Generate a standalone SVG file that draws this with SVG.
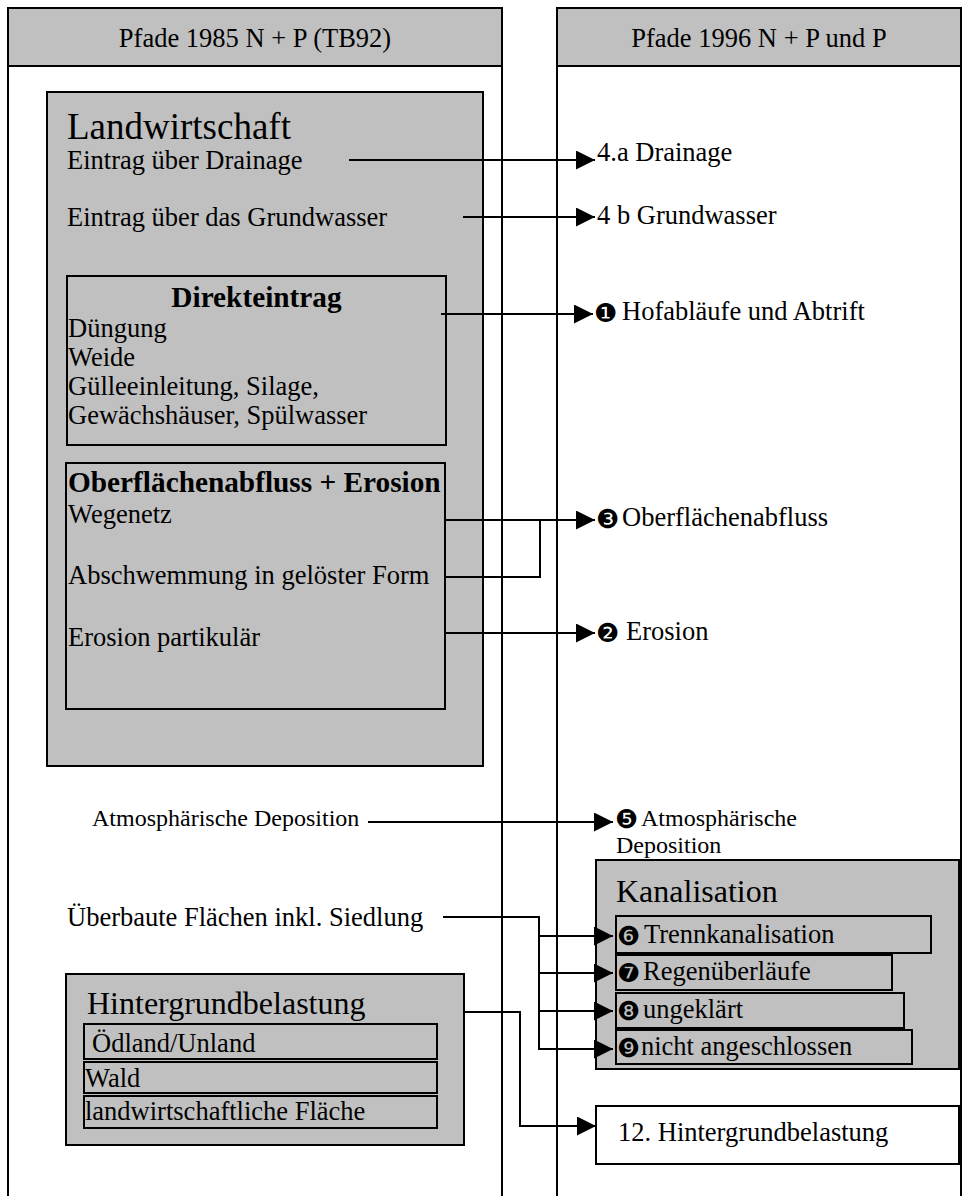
<svg xmlns="http://www.w3.org/2000/svg" width="963" height="1196" viewBox="0 0 963 1196">
<style>
text{font-family:"Liberation Serif","Times New Roman",serif;fill:#000}
.b{font-size:26.5px}
.s{font-size:24px}
.h{font-size:32px}
.L{font-size:37px}
.bold{font-size:29.3px;font-weight:bold}
.dg{font-family:"DejaVu Sans",sans-serif;font-size:26px}
.box{fill:#c0c0c0;stroke:#000;stroke-width:2}
.wbox{fill:#fff;stroke:#000;stroke-width:2}
.ln{fill:none;stroke:#000;stroke-width:2}
.con{fill:none;stroke:#000;stroke-width:2}
</style>
<defs>
<marker id="ah" viewBox="0 0 19 19" refX="19" refY="9.5" markerWidth="19" markerHeight="19" markerUnits="userSpaceOnUse" orient="auto">
<path d="M0,0 L19,9.5 L0,19 z" fill="#000"/>
</marker>
</defs>
<rect width="963" height="1196" fill="#fff"/>
<g id="col-left">
<line class="ln" x1="8" y1="8" x2="8" y2="1196"/>
<line class="ln" x1="502" y1="8" x2="502" y2="1196"/>
<rect class="box" x="8" y="8" width="494" height="58"/>
<text class="b" x="255" y="47" text-anchor="middle">Pfade 1985 N + P (TB92)</text>
</g>
<g id="col-right">
<line class="ln" x1="557" y1="8" x2="557" y2="1196"/>
<line class="ln" x1="961" y1="8" x2="961" y2="1196"/>
<rect class="box" x="557" y="8" width="404" height="58"/>
<text class="b" x="759" y="47" text-anchor="middle">Pfade 1996 N + P und P</text>
</g>
<g id="landwirtschaft">
<rect class="box" x="47" y="92" width="436" height="674"/>
<text class="L" x="67" y="139">Landwirtschaft</text>
<text class="b" x="67" y="169">Eintrag über Drainage</text>
<text class="b" x="67" y="226">Eintrag über das Grundwasser</text>
</g>
<g id="direkteintrag">
<rect class="box" x="67" y="276" width="379" height="169"/>
<text class="bold" x="256.5" y="307" text-anchor="middle">Direkteintrag</text>
<text class="b" x="68" y="337">Düngung</text>
<text class="b" x="68" y="366">Weide</text>
<text class="b" x="68" y="395">Gülleeinleitung, Silage,</text>
<text class="b" x="68" y="424">Gewächshäuser, Spülwasser</text>
</g>
<g id="oberflaeche">
<rect class="box" x="66" y="463" width="379" height="246"/>
<text class="bold" x="68" y="492">Oberflächenabfluss + Erosion</text>
<text class="b" x="68" y="523">Wegenetz</text>
<text class="b" x="68" y="584">Abschwemmung in gelöster Form</text>
<text class="b" x="68" y="646">Erosion partikulär</text>
</g>
<g id="atmos-src">
<text class="s" x="92" y="826">Atmosphärische Deposition</text>
</g>
<g id="ueberbaut">
<text class="b" x="67" y="926">Überbaute Flächen inkl. Siedlung</text>
</g>
<g id="hintergrund">
<rect class="box" x="66" y="974" width="398" height="171"/>
<text class="h" x="87" y="1014">Hintergrundbelastung</text>
<rect class="box" x="84" y="1024" width="353" height="35"/>
<text class="b" x="92" y="1052">Ödland/Unland</text>
<rect class="box" x="84" y="1062" width="353" height="31"/>
<text class="b" x="85" y="1087">Wald</text>
<rect class="box" x="84" y="1096" width="353" height="32"/>
<text class="b" x="85" y="1120">landwirtschaftliche Fläche</text>
</g>
<g id="t-drainage"><text class="b" x="597" y="161">4.a Drainage</text></g>
<g id="t-grundwasser"><text class="b" x="597" y="224">4 b Grundwasser</text></g>
<g id="t-hof"><text class="b"><tspan class="dg" x="594" y="322">❶</tspan><tspan x="622" y="320">Hofabläufe und Abtrift</tspan></text></g>
<g id="t-oberfl"><text class="b"><tspan class="dg" x="596" y="528">❸</tspan><tspan x="622" y="526">Oberflächenabfluss</tspan></text></g>
<g id="t-erosion"><text class="b"><tspan class="dg" x="596" y="642">❷</tspan><tspan x="626" y="640">Erosion</tspan></text></g>
<g id="t-atmos"><text class="s"><tspan class="dg" x="615" y="828">❺</tspan><tspan x="641" y="826">Atmosphärische</tspan><tspan x="616" y="853">Deposition</tspan></text></g>
<g id="kanalisation">
<rect class="box" x="596" y="860" width="363" height="209"/>
<text class="h" x="616" y="902">Kanalisation</text>
<rect class="box" x="616" y="916" width="315" height="37"/>
<text class="b"><tspan class="dg" x="617" y="945">❻</tspan><tspan x="644" y="943">Trennkanalisation</tspan></text>
<rect class="box" x="616" y="955" width="276" height="35"/>
<text class="b"><tspan class="dg" x="617" y="982">❼</tspan><tspan x="643" y="980">Regenüberläufe</tspan></text>
<rect class="box" x="616" y="993" width="288" height="35"/>
<text class="b"><tspan class="dg" x="617" y="1020">❽</tspan><tspan x="643" y="1018">ungeklärt</tspan></text>
<rect class="box" x="616" y="1030" width="296" height="34"/>
<text class="b"><tspan class="dg" x="617" y="1057">❾</tspan><tspan x="641" y="1055">nicht angeschlossen</tspan></text>
</g>
<g id="hintergrund12">
<rect class="wbox" x="596" y="1106" width="363" height="58"/>
<text class="b" x="618" y="1141">12. Hintergrundbelastung</text>
</g>
<g id="connectors">
<line class="con" x1="349" y1="160" x2="595" y2="160" marker-end="url(#ah)"/>
<line class="con" x1="463" y1="217" x2="595" y2="217" marker-end="url(#ah)"/>
<line class="con" x1="441" y1="314" x2="593" y2="314" marker-end="url(#ah)"/>
<line class="con" x1="444" y1="520" x2="595" y2="520" marker-end="url(#ah)"/>
<polyline class="con" points="444,577 540,577 540,520"/>
<line class="con" x1="444" y1="633" x2="595" y2="633" marker-end="url(#ah)"/>
<line class="con" x1="368" y1="822" x2="613" y2="822" marker-end="url(#ah)"/>
<polyline class="con" points="443,917 539,917 539,1049 613,1049" marker-end="url(#ah)"/>
<line class="con" x1="539" y1="936" x2="613" y2="936" marker-end="url(#ah)"/>
<line class="con" x1="539" y1="973" x2="613" y2="973" marker-end="url(#ah)"/>
<line class="con" x1="539" y1="1011" x2="613" y2="1011" marker-end="url(#ah)"/>
<polyline class="con" points="463,1012 520,1012 520,1126 596,1126" marker-end="url(#ah)"/>
</g>
</svg>
